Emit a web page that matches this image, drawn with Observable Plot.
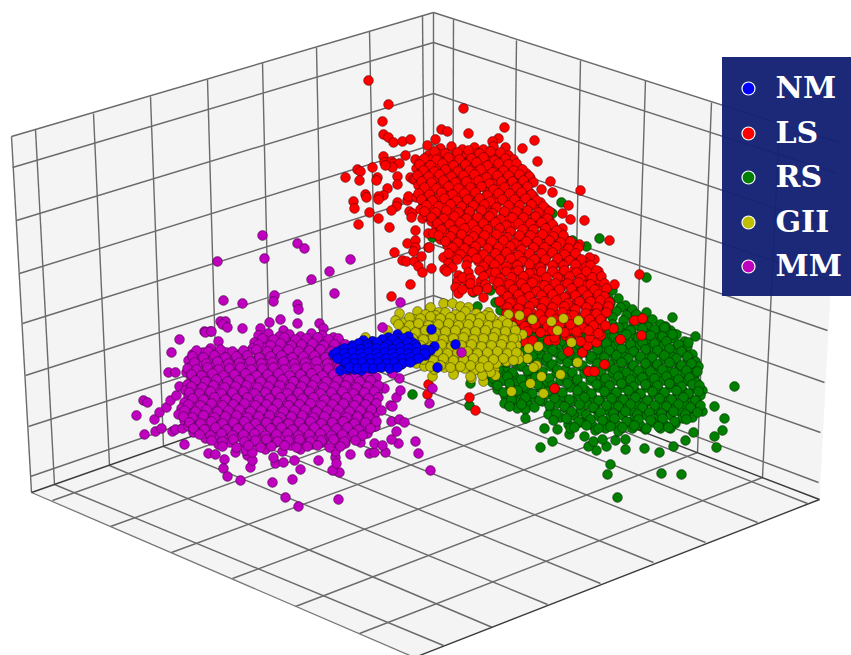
<!DOCTYPE html>
<html><head><meta charset="utf-8">
<style>html,body{margin:0;padding:0;background:#fff}svg{display:block}</style>
<script src="https://cdn.jsdelivr.net/npm/d3@7"></script>
<script src="https://cdn.jsdelivr.net/npm/@observablehq/plot@0.6"></script>
</head><body><div id="c"></div>
<script>
// In the picture's own projected plane coordinates.
const leftWall=[[11,136],[433,12],[433,351],[31,492]];
const rightWall=[[433,12],[838,142],[819,499],[433,351]];
const floorPane=[[31,492],[433,351],[819,499],[414,657]];
const leftRows=[[11,136,433,12],[12,167,433,42],[16,220,433,93],[19,273,433,144],[22,323,433,194],[25,375,433,244],[28,426,433,295],[30,476,433,337]];
const rightRows=[[433,12,838,142],[433,42,837,173],[433,93,833,227],[433,144,830,280],[433,194,827,330],[433,244,824,382],[433,295,820,432],[433,337,818,482]];
const leftCols=[[11,136,31,492],[35,129,54,484],[93,113,109,465],[150,96,163,446],[207,79,217,427],[262,62,270,408],[316,47,323,389],[369,31,376,370],[422,15,425,353],[433,12,433,351]];
const rightCols=[[453,19,452,358],[516,40,512,381],[580,60,573,405],[645,80,634,428],[711,102,697,452],[779,121,762,477]];
const floorA=[[54,484,443,645],[109,465,492,627],[163,446,547,604],[217,427,600,583],[270,408,653,562],[323,389,705,542],[376,370,757,522],[425,353,807,503]];
const floorB=[[452,358,52,500],[512,381,110,526],[573,405,171,552],[634,428,232,578],[697,452,295,606],[762,477,359,633]];
const edgesDark=[[31,492,433,351],[433,351,819,499],[819,499,414,657]];
const edgesMid=[[31,492,414,657]];

const rs=[[561,202],[552,213],[599,238],[586,246],[646,277],[672,317],[670,330],[477,306],[468,283],[473,292],[495,302],[500,310],[482,260],[432,237],[490,290],[572,240],[582,277],[605,290],[595,293],[618,298],[625,305],[642,317],[648,320],[612,290],[630,312],[608,298],[640,322],[655,330],[665,326],
[734,386],[714,406],[724,418],[722,430],[714,436],[716,447],[693,432],[685,440],[673,446],[659,452],[644,448],[625,449],[606,446],[596,450],[588,446],[593,441],[602,439],[625,439],[615,440],[610,464],[607,474],[661,473],[681,474],[617,497],[552,441],[540,447],[544,428],[557,429],[569,434],[584,436],[469,405],[470,383],[695,336],[412,394],
[600,306],[610,303],[620,307],[632,309],[605,313],[616,311],[626,315],[636,314],[646,312],[601,319],[612,317],[623,320],[633,322],[652,319],
[490,326],[500,324],[512,327],[525,325],[540,327],[555,324],[570,326],[585,325],[600,327],[612,324],[624,327],[636,325],[648,327],[660,324],
[495,333],[508,331],[520,334],[535,331],[550,333],[565,331],[580,334],[595,331],[608,333],[620,331],[632,334],[644,332],[656,333],[666,331],[676,334],
[500,340],[512,338],[526,341],[540,338],[555,340],[570,338],[585,341],[600,338],[612,340],[624,338],[636,341],[648,339],[660,340],[672,338],[684,341],
[492,347],[504,345],[516,348],[530,345],[545,347],[560,345],[575,348],[590,345],[603,347],[615,345],[627,348],[639,345],[651,347],[663,345],[675,348],[687,346],
[488,354],[498,352],[512,355],[525,352],[540,354],[555,352],[570,355],[585,352],[598,354],[610,352],[622,355],[634,352],[646,354],[658,352],[670,355],[682,352],[692,354],
[486,361],[500,359],[515,362],[530,359],[545,361],[560,359],[575,362],[590,359],[603,361],[615,359],[627,362],[639,359],[651,361],[663,359],[675,362],[687,359],[695,361],
[482,368],[492,366],[505,369],[520,366],[535,368],[550,366],[565,369],[580,366],[595,368],[608,366],[620,369],[632,366],[644,368],[656,366],[668,369],[680,366],[692,368],[698,366],
[487,375],[500,373],[514,376],[528,373],[542,375],[556,373],[570,376],[584,373],[598,375],[612,373],[624,376],[636,373],[648,375],[660,373],[672,376],[684,373],[694,375],
[492,382],[503,380],[516,383],[530,380],[545,382],[560,380],[575,383],[590,380],[603,382],[615,380],[627,383],[639,380],[651,382],[663,380],[675,383],[687,380],[696,382],
[497,389],[510,387],[525,390],[540,387],[555,389],[570,387],[585,390],[598,387],[610,389],[622,387],[634,390],[646,387],[658,389],[670,387],[682,390],[694,388],[702,390],
[505,396],[518,394],[532,397],[547,394],[562,396],[577,394],[592,397],[605,394],[617,396],[629,394],[641,397],[653,394],[665,396],[677,394],[689,397],[700,395],
[504,403],[515,401],[527,404],[542,401],[557,403],[572,401],[587,404],[600,401],[612,403],[624,401],[636,404],[648,401],[660,403],[672,401],[684,404],[696,402],
[525,409],[550,410],[565,408],[580,411],[595,408],[607,410],[619,408],[631,411],[643,408],[655,410],[667,408],[679,411],[691,408],[702,411],[517,408],
[525,418],[548,414],[560,417],[573,415],[586,418],[598,415],[610,417],[622,415],[634,418],[646,415],[658,417],[670,415],[682,418],[692,417],
[568,424],[580,422],[592,425],[604,422],[616,424],[628,422],[640,425],[652,422],[664,424],[675,423],
[570,428],[595,430],[605,428],[618,431],[632,428],[645,429],[660,428],[670,428]];
const rsInner=[[495,329],[505,327],[518,330],[532,328],[547,329],[562,327],[577,330],[592,328],[606,329],[618,327],[630,330],[642,328],[654,329],[664,327],
[501,336],[514,334],[527,337],[542,335],[557,336],[572,334],[587,337],[602,335],[614,336],[626,334],[638,337],[650,335],[662,336],[672,334],
[497,343],[507,341],[519,344],[533,342],[548,343],[563,341],[578,344],[593,342],[606,343],[618,341],[630,344],[642,342],[654,343],[666,341],[678,344],[688,342],
[495,350],[510,348],[523,351],[537,349],[552,350],[567,348],[582,351],[597,349],[609,350],[621,348],[633,351],[645,349],[657,350],[669,348],[681,351],
[492,357],[505,355],[518,358],[532,356],[547,357],[562,355],[577,358],[591,356],[604,357],[616,355],[628,358],[640,356],[652,357],[664,355],[676,358],[687,356],
[490,364],[506,362],[522,365],[537,363],[552,364],[567,362],[582,365],[597,363],[609,364],[621,362],[633,365],[645,363],[657,364],[669,362],[681,365],[691,363],
[487,371],[498,369],[512,372],[527,370],[542,371],[557,369],[572,372],[587,370],[601,371],[614,369],[626,372],[638,370],[650,371],[662,369],[674,372],[686,370],[697,371],
[493,378],[507,376],[521,379],[535,377],[549,378],[563,376],[577,379],[591,377],[605,378],[618,376],[630,379],[642,377],[654,378],[666,376],[678,379],[689,377],
[497,385],[509,383],[523,386],[537,384],[552,385],[567,383],[582,386],[596,384],[609,385],[621,383],[633,386],[645,384],[657,385],[669,383],[681,386],[692,384],[699,385],
[503,392],[517,390],[532,393],[547,391],[562,392],[577,390],[591,393],[604,391],[616,392],[628,390],[640,393],[652,391],[664,392],[676,390],[688,393],[698,391],
[511,399],[525,397],[539,400],[554,398],[569,399],[584,397],[598,400],[611,398],[623,399],[635,397],[647,400],[659,398],[671,399],[683,397],[695,400],
[509,406],[521,404],[534,407],[549,405],[564,406],[579,404],[593,407],[606,405],[618,406],[630,404],[642,407],[654,405],[666,406],[678,404],[690,407],[700,405],
[556,413],[571,411],[586,414],[600,412],[613,413],[625,411],[637,414],[649,412],[661,413],[673,411],[685,414],[697,412],
[553,420],[566,418],[578,421],[590,419],[602,420],[614,418],[626,421],[638,419],[650,420],[662,418],[674,421],[686,419],
[574,427],[586,425],[598,428],[610,426],[622,427],[634,425],[646,428],[658,426],[668,427]];

const ls=[[368,80],[388,104],[382,121],[383,134],[388,137],[393,142],[402,141],[410,139],[427,145],[405,155],[383,156],[384,162],[391,161],[393,163],[399,163],[392,167],[385,165],[415,159],[423,165],[372,167],[357,169],[360,171],[345,177],[359,180],[377,177],[376,180],[397,176],[397,184],[410,177],[413,179],[387,188],[365,194],[366,197],[383,195],[378,196],[378,199],[353,201],[354,208],[397,202],[396,206],[391,210],[407,200],[408,196],[369,212],[378,218],[358,224],[389,227],[409,211],[412,213],[411,217],[422,218],[415,230],[407,243],[415,240],[415,247],[413,251],[394,252],[402,260],[406,261],[414,261],[418,266],[421,256],[422,272],[410,284],[391,296],[428,247],[428,233],[431,268],[429,247],
[463,108],[504,127],[441,129],[447,131],[468,133],[534,140],[522,148],[435,139],[537,161],[498,138],[492,141],[505,147],[550,181],[552,192],[580,190],[541,189],[568,205],[562,213],[584,220],[570,219],[609,240],[579,244],[594,259],[589,257],[639,274],[598,271],[614,284],[608,301],[634,320],[642,318],
[540,332],[548,340],[555,340],[554,337],[568,351],[582,352],[587,345],[596,342],[589,337],[613,328],[620,339],[641,335],[604,364],[588,371],[594,371],[554,388],[469,397],[475,410],[428,384],[427,394],[525,342],[518,327],
[440,148],[451,146],[462,149],[474,147],[483,149],[493,146],
[428,155],[437,153],[446,156],[455,153],[466,155],[477,153],[488,156],[498,154],[508,155],
[420,161],[431,159],[442,162],[452,159],[461,161],[470,159],[481,162],[492,159],[503,161],[513,159],
[416,168],[425,166],[436,168],[447,166],[457,169],[468,166],[478,168],[489,166],[499,169],[510,166],[519,168],
[419,173],[430,171],[440,174],[451,171],[462,173],[473,171],[484,174],[494,171],[505,173],[515,171],[526,173],
[415,179],[424,177],[434,180],[445,177],[456,179],[467,177],[478,180],[488,177],[499,179],[510,177],[520,180],[530,178],
[418,185],[428,183],[439,186],[450,183],[461,185],[472,183],[483,186],[494,183],[505,185],[515,183],[525,186],
[421,191],[432,189],[443,192],[454,189],[465,191],[476,189],[487,192],[498,189],[508,191],[519,189],[529,192],
[416,197],[426,195],[437,198],[448,195],[459,197],[470,195],[481,198],[492,195],[503,197],[514,195],[524,198],[533,196],
[423,203],[433,201],[444,204],[455,201],[466,203],[477,201],[488,204],[499,201],[510,203],[520,201],[530,204],[540,202],
[420,209],[429,207],[440,210],[451,207],[462,209],[473,207],[484,210],[495,207],[506,209],[517,207],[527,210],[537,207],[546,209],
[426,215],[437,213],[448,216],[459,213],[470,215],[481,213],[492,216],[503,213],[514,215],[524,213],[534,216],[544,214],
[431,221],[442,219],[453,222],[464,219],[475,221],[486,219],[497,222],[508,219],[519,221],[529,219],[539,222],[549,220],
[436,227],[447,225],[458,228],[469,225],[480,227],[491,225],[502,228],[513,225],[524,227],[534,225],[544,228],[553,226],[562,228],
[433,233],[444,231],[455,234],[466,231],[477,233],[488,231],[499,234],[510,231],[521,233],[532,231],[542,234],[551,232],[560,233],
[440,239],[451,237],[462,240],[473,237],[484,239],[495,237],[506,240],[517,237],[528,239],[538,237],[548,240],[558,238],[566,240],
[447,245],[458,243],[469,246],[480,243],[491,245],[502,243],[513,246],[524,243],[535,245],[545,243],[555,246],[565,243],[574,245],
[455,251],[466,249],[477,252],[488,249],[499,251],[510,249],[521,252],[532,249],[543,251],[553,249],[563,252],[572,250],
[443,257],[450,255],[470,257],[481,255],[492,258],[503,255],[514,257],[525,255],[536,258],[547,255],[558,257],[568,255],[578,258],
[448,263],[478,261],[489,264],[500,261],[511,263],[522,261],[533,264],[544,261],[555,263],[566,261],[576,264],[585,262],
[444,269],[452,267],[486,269],[497,267],[508,270],[519,267],[530,269],[541,267],[552,270],[563,267],[574,269],[583,267],
[458,275],[490,273],[500,276],[511,273],[522,275],[533,273],[544,276],[555,273],[566,275],[577,273],[587,276],[594,274],
[457,281],[464,279],[480,281],[493,279],[504,282],[515,279],[526,281],[537,279],[548,282],[559,279],[570,281],[581,279],[591,282],[599,280],
[455,287],[470,285],[480,287],[497,285],[508,288],[519,285],[530,287],[541,285],[552,288],[563,285],[574,287],[585,285],[595,288],
[458,293],[472,291],[503,293],[514,291],[525,294],[536,291],[547,293],[558,291],[569,294],[580,291],[590,293],[600,291],
[510,299],[521,297],[532,300],[543,297],[554,299],[565,297],[576,300],[587,297],[597,299],
[504,305],[515,303],[526,306],[537,303],[548,305],[559,303],[570,306],[581,303],[592,305],[603,303],
[510,311],[520,309],[531,312],[542,309],[553,311],[564,309],[575,312],[586,309],[597,311],[607,309],
[512,317],[525,315],[536,318],[547,315],[558,317],[569,315],[580,318],[591,315],[601,317],
[505,323],[518,321],[530,324],[541,321],[552,323],[563,321],[574,324],[585,321],[596,323],
[520,329],[534,327],[546,330],[558,327],[570,329],[582,327],[592,330],[600,328],
[565,335],[577,333],[600,335],[532,340],[570,340],[580,341]];
const lsInner=[[434,151],[445,153],[457,152],[468,150],[479,153],[490,151],[500,152],
[424,158],[436,159],[448,157],[459,159],[471,158],[483,157],[494,160],[505,158],
[419,164],[430,165],[442,163],[453,165],[465,164],[476,162],[487,165],[498,163],[508,164],[516,163],
[423,170],[434,171],[445,169],[457,171],[469,170],[480,169],[492,172],[503,170],[513,170],[522,169],
[417,175],[428,176],[439,174],[451,176],[463,175],[474,174],[486,177],[497,175],[508,175],[519,174],[529,176],
[421,181],[431,182],[443,180],[455,182],[466,181],[478,180],[489,183],[501,181],[512,181],[523,180],[533,182],
[424,187],[436,188],[448,186],[458,188],[470,187],[481,186],[493,189],[504,187],[516,187],[527,186],
[418,193],[429,194],[441,192],[452,194],[464,193],[475,192],[487,195],[498,193],[509,193],[521,192],[531,194],
[421,199],[432,200],[444,198],[456,200],[467,199],[479,198],[490,201],[502,199],[514,199],[525,198],[536,200],
[426,205],[438,206],[450,204],[461,206],[473,205],[484,204],[496,207],[508,205],[519,205],[531,204],[543,206],
[424,211],[435,212],[446,210],[458,212],[469,211],[481,210],[492,213],[504,211],[516,211],[527,210],[538,212],[549,211],
[431,217],[443,218],[454,216],[466,218],[477,217],[489,216],[500,219],[512,217],[523,217],[535,216],[547,218],
[437,223],[449,224],[460,222],[472,224],[483,223],[495,222],[506,225],[518,223],[530,223],[541,222],[552,224],
[441,229],[453,230],[464,228],[476,230],[487,229],[499,228],[510,231],[522,229],[533,229],[545,228],[556,230],
[438,235],[450,236],[461,234],[473,236],[484,235],[496,234],[507,237],[519,235],[530,235],[542,234],[553,236],[563,235],
[445,241],[457,242],[468,240],[480,242],[491,241],[503,240],[514,243],[526,241],[537,241],[549,240],[560,242],[570,241],
[452,247],[464,248],[475,246],[487,248],[498,247],[510,246],[521,249],[533,247],[544,247],[556,246],[568,248],[578,247],
[448,253],[460,254],[472,252],[483,254],[495,253],[506,252],[518,255],[529,253],[541,253],[552,252],[564,254],[575,253],
[457,259],[467,260],[476,258],[488,260],[499,259],[510,258],[522,261],[534,259],[545,259],[557,258],[569,260],[581,259],
[466,265],[483,266],[494,264],[506,266],[517,265],[529,264],[540,267],[552,265],[563,265],[575,264],[586,266],[590,265],
[446,271],[468,272],[479,270],[495,272],[506,271],[518,270],[529,273],[541,271],[552,271],[564,270],[576,272],[586,271],[596,270],
[462,277],[470,278],[483,276],[500,278],[511,277],[523,276],[534,279],[546,277],[557,277],[569,276],[580,278],[592,277],[601,276],
[470,283],[485,284],[498,282],[509,284],[521,283],[532,282],[544,285],[555,283],[567,283],[578,282],[590,284],[604,283],
[462,289],[477,290],[487,288],[500,290],[513,289],[525,288],[536,291],[548,289],[559,289],[571,288],[582,290],[594,289],[606,288],
[483,297],[507,296],[518,294],[529,296],[541,295],[552,294],[564,297],[575,295],[587,295],[598,294],[604,296],
[499,301],[510,302],[521,300],[533,302],[544,301],[556,300],[567,303],[579,301],[590,301],[600,300],[609,302],
[507,307],[518,308],[529,306],[541,308],[552,307],[564,306],[575,309],[586,307],[597,307],[608,306],
[506,313],[516,314],[527,312],[539,314],[550,313],[562,312],[573,315],[585,313],[596,313],[606,312],
[508,319],[520,320],[531,318],[543,320],[555,319],[566,318],[578,321],[589,319],[600,319],
[512,325],[524,326],[535,324],[547,326],[559,325],[570,324],[582,327],[593,325],[605,325],
[527,331],[540,332],[552,330],[564,332],[576,331],[588,330],[598,333]];

const gii=[[557,330],[571,342],[538,346],[528,348],[518,354],[527,358],[577,362],[536,365],[533,367],[541,376],[560,374],[530,383],[543,393],[511,391],[494,369],[495,375],[483,381],[471,378],[432,376],[522,334],[508,314],[519,315],[532,319],[551,321],[563,318],[578,320],[488,312],[493,319],[476,313],
[365,337],[387,330],[372,341],[430,307],[443,303],[452,303],[460,306],[468,307],[438,312],
[399,313],[417,311],[425,314],[435,315],[445,312],[455,314],[465,311],[485,315],
[395,320],[404,322],[414,319],[424,321],[434,319],[444,322],[454,319],[464,321],[474,319],[484,322],[502,320],
[402,328],[411,326],[421,329],[431,326],[441,328],[451,326],[461,329],[471,326],[481,328],[491,326],[501,329],[512,326],
[408,335],[418,333],[428,336],[438,333],[448,335],[458,333],[468,336],[478,333],[488,335],[498,333],[508,336],[516,338],
[416,342],[426,340],[436,343],[446,340],[456,342],[466,340],[476,343],[486,340],[496,342],[506,340],[516,345],
[412,349],[424,347],[434,350],[444,347],[454,349],[464,347],[474,350],[484,347],[494,349],[504,347],[512,350],
[420,356],[430,354],[440,357],[450,354],[460,356],[470,354],[480,357],[490,354],[500,356],[510,354],[518,359],
[416,363],[426,361],[436,364],[446,361],[456,363],[466,361],[476,364],[486,361],[496,363],[506,361],
[424,366],[434,369],[444,367],[454,370],[464,368],[474,370],[484,367],[490,372],[453,374],[470,376],[482,375]];
const giiInner=[[409,317],[420,318],[430,316],[440,318],[450,317],[460,316],[470,318],[480,317],[490,316],
[398,324],[409,325],[418,323],[428,325],[438,324],[448,323],[458,325],[468,324],[478,323],[488,325],[497,324],[507,323],
[405,331],[415,332],[425,330],[435,332],[445,331],[455,330],[465,332],[475,331],[485,330],[495,332],[505,331],[515,330],
[412,338],[423,339],[433,337],[443,339],[453,338],[463,337],[473,339],[483,338],[493,337],[503,339],[513,338],
[420,345],[431,346],[441,344],[451,346],[461,345],[471,344],[481,346],[491,345],[501,344],[511,346],
[417,352],[427,353],[437,351],[447,353],[457,352],[467,351],[477,353],[487,352],[497,351],[507,353],[516,352],
[423,359],[433,360],[443,358],[453,360],[463,359],[473,358],[483,360],[493,359],[503,358],[513,360],
[430,366],[440,365],[450,367],[460,366],[470,365],[480,367],[488,366]];

const mm=[[262,235],[297,243],[304,248],[217,261],[264,258],[350,259],[329,271],[311,279],[334,293],[274,295],[273,301],[223,300],[242,303],[297,304],[298,309],[400,302],[280,319],[269,322],[297,323],[319,323],[220,321],[225,321],[222,324],[227,327],[242,328],[260,328],[283,330],[323,328],[382,327],[204,331],[210,331],
[179,339],[171,352],[210,348],[218,341],[205,332],[211,331],[168,372],[175,372],[143,400],[147,402],[136,415],[154,419],[144,434],[155,431],[161,428],[172,431],[175,429],[182,428],[159,412],[166,407],[170,400],[176,395],[179,386],[184,444],[208,453],[215,454],[224,459],[223,468],[227,476],[240,480],[272,482],[292,479],[285,497],[298,506],[338,499],[339,472],[332,470],[300,469],[294,460],[250,467],[275,463],[283,462],[273,457],[318,460],[335,457],[336,463],[350,454],[369,453],[374,452],[385,452],[374,443],[382,445],[398,443],[391,439],[396,431],[415,441],[418,453],[430,470],[391,421],[399,419],[404,422],[375,426],[390,405],[392,406],[396,397],[400,390],[384,388],[399,378],[392,373],[461,352],[432,388],[429,403],[247,455],[252,460],[235,452],
[258,335],[268,333],[279,336],[289,334],[300,336],[311,333],[322,335],[333,337],
[254,342],[265,340],[275,343],[286,340],[296,342],[307,340],[318,343],[328,341],[340,342],
[252,348],[262,346],[272,349],[283,346],[293,348],[304,346],[314,349],[325,346],[336,348],
[192,354],[203,352],[215,355],[226,352],[238,354],[248,352],[258,355],[269,352],[279,354],[290,352],[300,355],[311,352],[321,354],[332,352],
[188,360],[198,358],[209,361],[220,358],[231,360],[242,358],[253,361],[264,358],[275,360],[286,358],[297,361],[308,358],[319,360],[330,358],
[190,366],[201,364],[212,367],[223,364],[234,366],[245,364],[256,367],[267,364],[278,366],[289,364],[300,367],[311,364],[322,366],[333,364],[344,367],[355,365],
[186,372],[195,370],[206,373],[217,370],[228,372],[239,370],[250,373],[261,370],[272,372],[283,370],[294,373],[305,370],[316,372],[327,370],[338,373],[349,370],[360,372],[370,371],
[191,378],[200,376],[211,379],[222,376],[233,378],[244,376],[255,379],[266,376],[277,378],[288,376],[299,379],[310,376],[321,378],[332,376],[343,379],[354,376],[365,378],[376,377],
[187,384],[197,382],[208,385],[219,382],[230,384],[241,382],[252,385],[263,382],[274,384],[285,382],[296,385],[307,382],[318,384],[329,382],[340,385],[351,382],[362,384],[372,382],
[185,390],[194,388],[205,391],[216,388],[227,390],[238,388],[249,391],[260,388],[271,390],[282,388],[293,391],[304,388],[315,390],[326,388],[337,391],[348,388],[359,390],[370,388],[377,391],
[188,396],[199,394],[210,397],[221,394],[232,396],[243,394],[254,397],[265,394],[276,396],[287,394],[298,397],[309,394],[320,396],[331,394],[342,397],[353,394],[364,396],[375,395],
[184,402],[195,400],[206,403],[217,400],[228,402],[239,400],[250,403],[261,400],[272,402],[283,400],[294,403],[305,400],[316,402],[327,400],[338,403],[349,400],[360,402],[371,401],
[181,408],[190,406],[201,409],[212,406],[223,408],[234,406],[245,409],[256,406],[267,408],[278,406],[289,409],[300,406],[311,408],[322,406],[333,409],[344,406],[355,408],[366,406],[377,409],
[178,414],[187,412],[198,415],[209,412],[220,414],[231,412],[242,415],[253,412],[264,414],[275,412],[286,415],[297,412],[308,414],[319,412],[330,415],[341,412],[352,414],[363,412],[374,415],
[184,420],[195,418],[206,421],[217,418],[228,420],[239,418],[250,421],[261,418],[272,420],[283,418],[294,421],[305,418],[316,420],[327,418],[338,421],[349,418],[360,420],[371,419],
[188,426],[199,424],[210,427],[221,424],[232,426],[243,424],[254,427],[265,424],[276,426],[287,424],[298,427],[309,424],[320,426],[331,424],[342,427],[353,424],[364,426],
[193,432],[204,430],[215,433],[226,430],[237,432],[248,430],[259,433],[270,430],[281,432],[292,430],[303,433],[314,430],[325,432],[336,430],[347,433],[358,431],[367,433],
[205,438],[216,436],[227,439],[238,436],[249,438],[260,436],[271,439],[282,436],[293,438],[304,436],[315,439],[326,437],[339,438],[350,436],
[218,444],[229,442],[243,445],[254,442],[265,444],[276,442],[290,445],[301,442],[312,444],[322,442],[335,445],[345,443],[360,442],
[245,450],[252,452],[265,449],[282,451],[300,449],[335,451]];
const mmInner=[[262,338],[273,339],[284,337],[295,339],[306,338],[317,337],[328,339],[338,338],
[258,344],[270,345],[280,343],[291,345],[301,344],[312,343],[323,345],[334,344],[345,344],
[196,350],[208,351],[220,349],[232,351],[243,350],[256,349],[267,351],[277,350],[288,349],[298,351],[309,350],[320,349],[331,351],[342,350],
[192,356],[203,357],[214,355],[225,357],[236,356],[247,355],[259,357],[270,356],[281,355],[292,357],[303,356],[314,355],[325,357],[336,356],
[194,362],[206,363],[217,361],[228,363],[239,362],[250,361],[261,363],[272,362],[283,361],[294,363],[305,362],[316,361],[327,363],[338,362],[349,362],
[187,368],[196,369],[207,367],[218,369],[229,368],[240,367],[251,369],[262,368],[273,367],[284,369],[295,368],[306,367],[317,369],[328,368],[339,367],[350,369],[362,368],
[191,374],[201,375],[212,373],[223,375],[234,374],[245,373],[256,375],[267,374],[278,373],[289,375],[300,374],[311,373],[322,375],[333,374],[344,373],[355,375],[366,374],
[195,380],[205,381],[216,379],[227,381],[238,380],[249,379],[260,381],[271,380],[282,379],[293,381],[304,380],[315,379],[326,381],[337,380],[348,379],[359,381],[370,380],
[191,386],[202,387],[213,385],[224,387],[235,386],[246,385],[257,387],[268,386],[279,385],[290,387],[301,386],[312,385],[323,387],[334,386],[345,385],[356,387],[367,386],[378,385],
[189,392],[199,393],[210,391],[221,393],[232,392],[243,391],[254,393],[265,392],[276,391],[287,393],[298,392],[309,391],[320,393],[331,392],[342,391],[353,393],[364,392],[374,391],
[192,398],[203,399],[214,397],[225,399],[236,398],[247,397],[258,399],[269,398],[280,397],[291,399],[302,398],[313,397],[324,399],[335,398],[346,397],[357,399],[368,398],[378,397],
[188,404],[200,405],[211,403],[222,405],[233,404],[244,403],[255,405],[266,404],[277,403],[288,405],[299,404],[310,403],[321,405],[332,404],[343,403],[354,405],[365,404],[376,403],
[184,410],[195,411],[206,409],[217,411],[228,410],[239,409],[250,411],[261,410],[272,409],[283,411],[294,410],[305,409],[316,411],[327,410],[338,409],[349,411],[360,410],[371,409],[381,410],
[183,416],[192,417],[203,415],[214,417],[225,416],[236,415],[247,417],[258,416],[269,415],[280,417],[291,416],[302,415],[313,417],[324,416],[335,415],[346,417],[357,416],[368,416],
[189,422],[200,423],[211,421],[222,423],[233,422],[244,421],[255,423],[266,422],[277,421],[288,423],[299,422],[310,421],[321,423],[332,422],[343,421],[354,423],[365,422],[376,421],
[193,428],[204,429],[215,427],[226,429],[237,428],[248,427],[259,429],[270,428],[281,427],[292,429],[303,428],[314,427],[325,429],[336,428],[347,427],[358,429],[370,428],
[199,434],[210,435],[221,433],[232,435],[243,434],[254,433],[265,435],[276,434],[287,433],[298,435],[309,434],[320,433],[331,435],[342,434],[353,433],[362,435],
[211,440],[222,441],[233,439],[244,441],[255,440],[266,439],[277,441],[288,440],[299,439],[310,441],[321,440],[333,439],[344,441],[355,440],
[222,446],[236,447],[248,445],[260,447],[271,446],[284,445],[296,447],[307,446],[317,445],[329,447],[340,446]];

const nm=[[431,329],[455,344],[434,346],[430,350],[437,367],[422,355],[397,334],
[388,337],[398,338],[408,336],
[363,340],[372,341],[382,339],[392,341],[402,340],[412,342],
[352,345],[360,344],[368,346],[376,344],[384,346],[392,345],[400,346],[408,344],[416,346],
[340,350],[348,349],[356,351],[364,349],[372,351],[380,349],[388,351],[396,349],[404,351],[412,349],[420,351],[428,350],
[333,354],[338,356],[346,354],[354,356],[362,354],[370,356],[378,354],[386,356],[394,354],[402,356],[410,354],[418,356],[425,355],
[342,360],[350,359],[358,361],[366,359],[374,361],[382,359],[390,361],[398,359],[406,361],[414,359],
[345,365],[353,364],[361,366],[369,364],[377,366],[385,364],[393,366],[401,364],
[340,370],[347,369],[354,369],[361,370],[370,368]];
const nmInner=[[392,339],[403,338],[358,343],[367,344],[377,342],[387,344],[397,343],[407,342],[415,344],
[344,348],[352,347],[360,349],[368,347],[376,348],[384,347],[392,349],[400,347],[408,348],[416,347],[424,349],
[336,352],[344,353],[352,352],[360,353],[368,352],[376,353],[384,352],[392,353],[400,352],[408,353],[416,352],[424,353],
[337,358],[346,357],[354,358],[362,357],[370,358],[378,357],[386,358],[394,357],[402,358],[410,357],[418,358],
[346,362],[354,363],[362,362],[370,363],[378,362],[386,363],[394,362],[402,363],[410,362],
[349,367],[357,368],[365,367],[373,368],[381,367],[389,368],[397,367]];

const legendNames=["NM","LS","RS","GII","MM"];
const legendColors=["#0000ff","#ff0000","#007f00","#bfbf00","#bf00bf"];
const legendRows=[88,133,177,222,266];
const legendBox=[{x1:722,x2:851,y1:57,y2:296}];
const legend=legendNames.map((name,i)=>({name,color:legendColors[i],row:legendRows[i]}));

const px=d=>d[0], py=d=>d[1];
const pane=p=>Plot.line(p,{x:px,y:py,fill:"#f4f4f4",stroke:"none"});
const links=(rows,stroke,strokeWidth)=>Plot.link(rows,{x1:d=>d[0],y1:d=>d[1],x2:d=>d[2],y2:d=>d[3],stroke,strokeWidth});
const cloud=(pts,fill)=>Plot.dot(pts,{x:px,y:py,r:4.9,fill,stroke:"#000",strokeWidth:.6,strokeOpacity:.65});
const grid="#6a6a6a";

const chart=Plot.plot({
  width:851,height:655,margin:0,
  x:{domain:[0,851],range:[0,851],axis:null},
  y:{domain:[0,655],range:[0,655],axis:null},
  marks:[
    pane(leftWall),pane(rightWall),pane(floorPane),
    links(leftRows,grid,1.4),links(rightRows,grid,1.4),links(leftCols,grid,1.4),links(rightCols,grid,1.4),
    links(floorA,grid,1.4),links(floorB,grid,1.4),
    links(edgesMid,"#777",1.3),links(edgesDark,"#3c3c3c",1.4),
    cloud(rs.concat(rsInner),"#007f00"),cloud(ls.concat(lsInner),"#ff0000"),cloud(gii.concat(giiInner),"#bfbf00"),cloud(mm.concat(mmInner),"#bf00bf"),cloud(nm.concat(nmInner),"#0000ff"),
    Plot.rect(legendBox,{x1:"x1",x2:"x2",y1:"y1",y2:"y2",fill:"#142274",fillOpacity:.97}),
    Plot.dot(legend,{x:()=>748,y:"row",r:6.5,fill:"color",stroke:"#fff",strokeWidth:1.2}),
    Plot.text(legend,{x:()=>775,y:"row",text:"name",fill:"#fff",textAnchor:"start",fontFamily:"DejaVu Serif",fontWeight:"bold",fontSize:30})
  ]
});
chart.style.background="#fff";
document.getElementById("c").append(chart);
</script></body></html>
